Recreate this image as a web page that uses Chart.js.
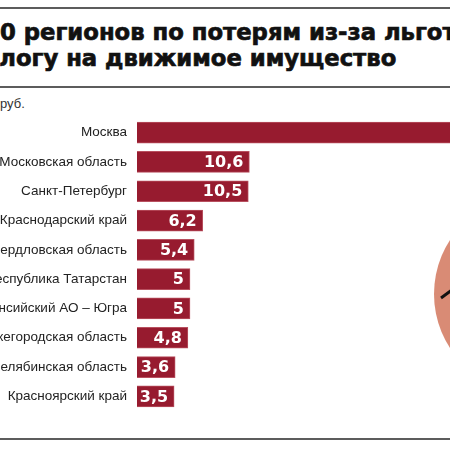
<!DOCTYPE html>
<html>
<head>
<meta charset="utf-8">
<script src="https://cdn.jsdelivr.net/npm/chart.js@4"></script>
<style>
  html, body { margin:0; padding:0; background:#fff; }
  #stage { position:relative; width:450px; height:450px; overflow:hidden; background:#fff; }
  .rule { position:absolute; left:0; width:450px; height:2px; background:#5c5c5c; }
  .title { position:absolute; white-space:nowrap; font-family:"DejaVu Sans", sans-serif; font-weight:bold; font-size:23px; color:#111; line-height:1; transform-origin:0 0; -webkit-text-stroke:0.7px #111; }
  #sub { position:absolute; white-space:nowrap; font-family:"Liberation Sans", Arial, sans-serif; font-size:13px; color:#333; top:96px; }
  #circle { position:absolute; left:434px; top:195px; width:198px; height:198px; border-radius:50%; background:#d98b75; }
  #wrap { position:absolute; left:-200px; top:0; width:800px; height:450px; }
</style>
</head>
<body>
<div id="stage">
  <div class="rule" style="top:7px"></div>
  <div class="title" id="t1"><span id="t1h">Топ-1</span><span id="t1v">0 регионов по потерям из-за льготы</span></div>
  <div class="title" id="t2"><span id="t2h">по на</span><span id="t2v">логу на движимое имущество</span></div>
  <div class="rule" style="top:86px"></div>
  <div id="sub"><span id="subh">млрд </span>руб.</div>
  <div id="circle"></div>
  <svg style="position:absolute;left:0;top:0" width="450" height="450"><line x1="441" y1="298" x2="452" y2="290" stroke="#111" stroke-width="3"/></svg>
  <div id="wrap"><canvas id="c" width="800" height="450"></canvas></div>
  <div class="rule" style="top:438px"></div>
</div>
<script>
const categories = ['Москва','Московская область','Санкт-Петербург','Краснодарский край','Свердловская область','Республика Татарстан','Ханты-Мансийский АО – Югра','Нижегородская область','Челябинская область','Красноярский край'];
const values = [34, 10.6, 10.5, 6.2, 5.4, 5, 5, 4.8, 3.6, 3.5];
const unitLabel = 'млрд руб.';

// title placement: fit visible part to the reference
function placeTitle(id, hidId, visId, targetStart, targetEnd, baselineTop) {
  const el = document.getElementById(id);
  const h = document.getElementById(hidId).getBoundingClientRect().width;
  const v = document.getElementById(visId).getBoundingClientRect().width;
  const s = targetEnd !== null ? (targetEnd - targetStart) / v : window.__titleScale;
  window.__titleScale = s;
  el.style.transform = 'scaleX(' + s + ')';
  el.style.left = (targetStart - h * s) + 'px';
  el.style.top = baselineTop + 'px';
}
placeTitle('t2', 't2h', 't2v', -1, 396, 47);
placeTitle('t1', 't1h', 't1v', 0, null, 21);
const sh = document.getElementById('subh').getBoundingClientRect().width;
document.getElementById('sub').style.left = (-sh + 0) + 'px';

const valueLabels = {
  id: 'valueLabels',
  afterDatasetsDraw(chart) {
    const ctx = chart.ctx;
    const meta = chart.getDatasetMeta(0);
    ctx.save();
    ctx.fillStyle = '#ffffff';
    ctx.font = 'bold 16px "DejaVu Sans", sans-serif';
    ctx.textAlign = 'right';
    ctx.textBaseline = 'middle';
    meta.data.forEach((bar, i) => {
      const txt = String(values[i]).replace('.', ',');
      ctx.fillText(txt, bar.x - 6, bar.y + 1);
    });
    ctx.restore();
  }
};

new Chart(document.getElementById('c'), {
  type: 'bar',
  data: {
    labels: categories,
    datasets: [{
      data: values,
      backgroundColor: '#971b2f',
      borderColor: '#b8505f',
      borderWidth: 1,
      barThickness: 21,
      categoryPercentage: 1,
      barPercentage: 1
    }]
  },
  options: {
    indexAxis: 'y',
    responsive: false,
    animation: false,
    layout: { padding: { top: 118, bottom: 39, left: 0, right: 39 } },
    plugins: { legend: { display: false }, tooltip: { enabled: false } },
    scales: {
      x: { display: false, min: 0, max: 40 },
      y: {
        grid: { display: false, drawTicks: false },
        border: { display: false },
        ticks: { color: '#222', padding: 10, font: { family: '"Liberation Sans", Arial, sans-serif', size: 13.5 } },
        afterFit(scale) { scale.width = 337; }
      }
    }
  },
  plugins: [valueLabels]
});
</script>
</body>
</html>
